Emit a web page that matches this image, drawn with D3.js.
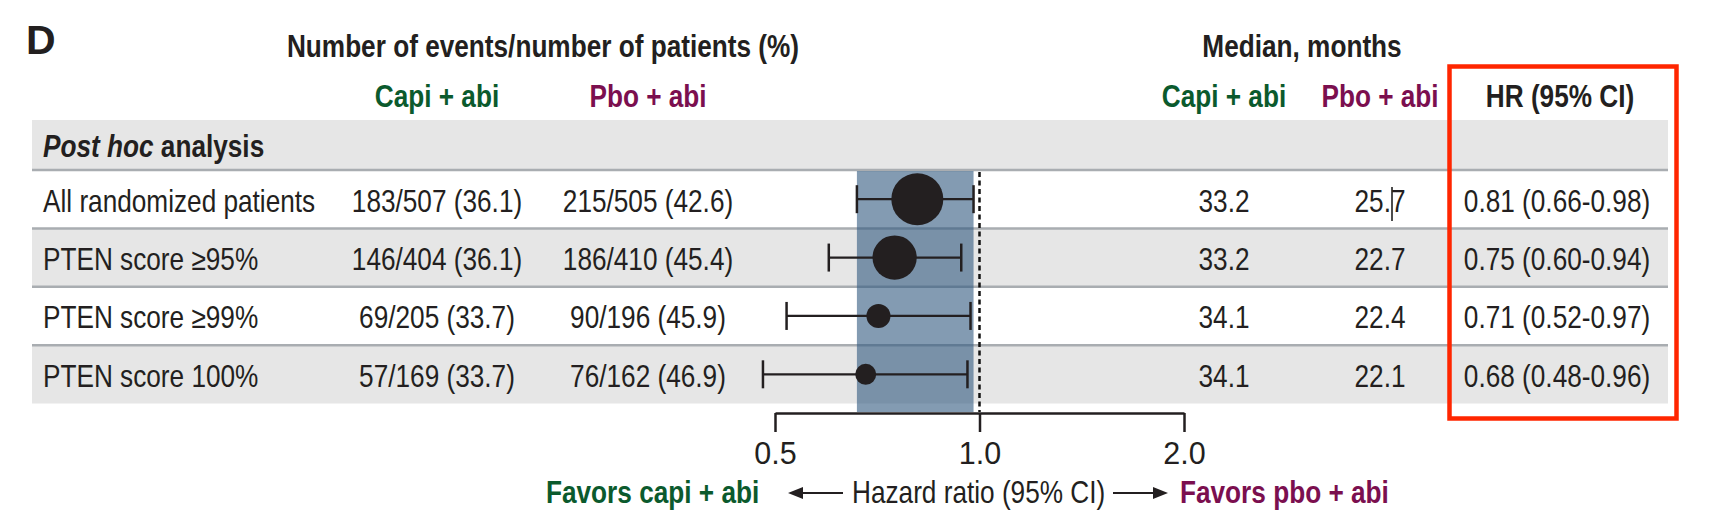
<!DOCTYPE html>
<html>
<head>
<meta charset="utf-8">
<script src="https://cdn.jsdelivr.net/npm/d3@7"></script>
<style>
  html, body { margin: 0; padding: 0; background: #fff; }
  svg { display: block; }
</style>
</head>
<body>
<svg id="chart" width="1718" height="516"></svg>
<script>
// ---------------- DATA ----------------
const subgroups   = ["All randomized patients", "PTEN score \u226595%", "PTEN score \u226599%", "PTEN score 100%"];
const capiEvents  = [183, 146, 69, 57];
const capiN       = [507, 404, 205, 169];
const capiPct     = [36.1, 36.1, 33.7, 33.7];
const pboEvents   = [215, 186, 90, 76];
const pboN        = [505, 410, 196, 162];
const pboPct      = [42.6, 45.4, 45.9, 46.9];
const medianCapi  = [33.2, 33.2, 34.1, 34.1];
const medianPbo   = [25.7, 22.7, 22.4, 22.1];
const hr          = [0.81, 0.75, 0.71, 0.68];
const hrLow       = [0.66, 0.60, 0.52, 0.48];
const hrHigh      = [0.98, 0.94, 0.97, 0.96];
const xTicks      = [0.5, 1.0, 2.0];
const refHR       = 1.0;

// ---------------- STYLE ----------------
const FONT = "'Liberation Sans', Arial, Helvetica, sans-serif";
const INK = "#231f20";
const GREEN = "#0b5a2d";
const PURPLE = "#7b0f4f";
const GRAY = "#e6e6e6";
const SEP = "#a9adb1";
const FS = 31;
const SQUEEZE = 0.845;   // condensed look of the source typeface

const svg = d3.select("#chart");

const rows = subgroups.map((s, i) => ({
  label: s, i,
  capi: `${capiEvents[i]}/${capiN[i]} (${capiPct[i].toFixed(1)})`,
  pbo: `${pboEvents[i]}/${pboN[i]} (${pboPct[i].toFixed(1)})`,
  medC: medianCapi[i].toFixed(1),
  medP: medianPbo[i].toFixed(1),
  hr: hr[i], lo: hrLow[i], hi: hrHigh[i],
  hrText: `${hr[i].toFixed(2)} (${hrLow[i].toFixed(2)}-${hrHigh[i].toFixed(2)})`,
  events: capiEvents[i] + pboEvents[i]
}));

// scales
const tableLeft = 32, tableRight = 1668;
const headerTop = 120, headerBottom = 170, tableBottom = 403.5;
const y = d3.scaleBand().domain(d3.range(rows.length)).range([headerBottom, tableBottom]);
const x = d3.scaleLog().domain([0.5, 2]).range([775, 1184]);
const r = d3.scaleLinear().domain(d3.extent(rows, d => d.events)).range([10.5, 26]);

// column centres
const col = { capi: 437, pbo: 648, medC: 1224, medP: 1380, hr: 1557 };

// ---------------- BACKGROUND ROWS ----------------
svg.append("rect").attr("x", tableLeft).attr("y", headerTop)
  .attr("width", tableRight - tableLeft).attr("height", headerBottom - headerTop).attr("fill", GRAY);

svg.append("g").selectAll("rect").data(rows).join("rect")
  .attr("x", tableLeft).attr("y", d => y(d.i))
  .attr("width", tableRight - tableLeft).attr("height", y.bandwidth())
  .attr("fill", d => d.i % 2 === 1 ? GRAY : "#ffffff");

// separators
const sepYs = [headerBottom].concat(rows.slice(1).map(d => y(d.i)));
svg.append("g").selectAll("line").data(sepYs).join("line")
  .attr("x1", tableLeft).attr("x2", tableRight)
  .attr("y1", d => d).attr("y2", d => d)
  .attr("stroke", SEP).attr("stroke-width", 2.5);

// ---------------- CI band of overall ----------------
svg.append("rect")
  .attr("x", x(rows[0].lo)).attr("width", x(rows[0].hi) - x(rows[0].lo))
  .attr("y", headerBottom + 1).attr("height", 412 - headerBottom - 1)
  .attr("fill", "#30597f").attr("fill-opacity", 0.6);

// reference dashed line
svg.append("line")
  .attr("x1", x(refHR)).attr("x2", x(refHR))
  .attr("y1", headerBottom + 2).attr("y2", 412)
  .attr("stroke", "#111").attr("stroke-width", 2.5).attr("stroke-dasharray", "5,3.5");

// ---------------- AXIS ----------------
const axis = d3.axisBottom(x).tickValues(xTicks).tickFormat(d3.format(".1f"))
  .tickSizeInner(19).tickSizeOuter(0).tickPadding(10);
const ag = svg.append("g").attr("transform", "translate(0,413)").call(axis);
ag.select(".domain").attr("stroke", INK).attr("stroke-width", 2.5);
ag.selectAll(".tick line").attr("stroke", INK).attr("stroke-width", 2.5);
ag.selectAll(".tick text").attr("fill", INK).attr("font-family", FONT).attr("font-size", 30.5);

// ---------------- ERROR BARS & POINTS ----------------
const eb = svg.append("g").selectAll("g").data(rows).join("g")
  .attr("transform", d => `translate(0,${y(d.i) + y.bandwidth() / 2})`);
eb.append("line").attr("x1", d => x(d.lo)).attr("x2", d => x(d.hi))
  .attr("stroke", INK).attr("stroke-width", 2.2);
eb.append("line").attr("x1", d => x(d.lo)).attr("x2", d => x(d.lo))
  .attr("y1", -14).attr("y2", 14).attr("stroke", INK).attr("stroke-width", 2.5);
eb.append("line").attr("x1", d => x(d.hi)).attr("x2", d => x(d.hi))
  .attr("y1", -14).attr("y2", 14).attr("stroke", INK).attr("stroke-width", 2.5);
eb.append("circle").attr("cx", d => x(d.hr)).attr("r", d => r(d.events)).attr("fill", "#231f20");

// ---------------- TEXT ----------------
function txt(g, s, xx, yy, opts = {}) {
  const sx = opts.squeeze === undefined ? SQUEEZE : opts.squeeze;
  return g.append("text")
    .attr("transform", `translate(${xx},${yy}) scale(${sx},1)`)
    .attr("font-family", FONT)
    .attr("font-size", opts.size || FS)
    .attr("font-weight", opts.weight || "normal")
    .attr("text-anchor", opts.anchor || "middle")
    .attr("fill", opts.fill || INK)
    .text(s);
}
const tg = svg.append("g");
txt(tg, "D", 26, 54, { size: 41, weight: "bold", anchor: "start", squeeze: 1 });
txt(tg, "Number of events/number of patients (%)", 543, 57, { weight: "bold" });
txt(tg, "Median, months", 1302, 57, { weight: "bold" });
txt(tg, "Capi + abi", col.capi, 107, { weight: "bold", fill: GREEN });
txt(tg, "Pbo + abi", col.pbo, 107, { weight: "bold", fill: PURPLE });
txt(tg, "Capi + abi", col.medC, 107, { weight: "bold", fill: GREEN });
txt(tg, "Pbo + abi", col.medP, 107, { weight: "bold", fill: PURPLE });
txt(tg, "HR (95% CI)", 1560, 107, { weight: "bold" });

const ph = txt(tg, "", 43, 157, { weight: "bold", anchor: "start" });
ph.append("tspan").attr("font-style", "italic").text("Post hoc");
ph.append("tspan").text(" analysis");

const rowText = svg.append("g").selectAll("g").data(rows).join("g")
  .attr("transform", d => `translate(0,${y(d.i) + y.bandwidth() / 2 + 12.5})`);
rowText.each(function (d) {
  const g = d3.select(this);
  txt(g, d.label, 43, 0, { anchor: "start" });
  txt(g, d.capi, col.capi, 0);
  txt(g, d.pbo, col.pbo, 0);
  txt(g, d.medC, col.medC, 0);
  txt(g, d.medP, col.medP, 0);
  txt(g, d.hrText, col.hr, 0);
});

// small cursor mark seen in source next to first Pbo median
svg.append("line").attr("x1", 1392).attr("x2", 1392)
  .attr("y1", y(0) + 17).attr("y2", y(0) + 51)
  .attr("stroke", "#111").attr("stroke-width", 1.5);

// ---------------- BOTTOM LABELS ----------------
const arrowY = 493;
txt(tg, "Favors capi + abi", 546, 503, { weight: "bold", fill: GREEN, anchor: "start" });
txt(tg, "Hazard ratio (95% CI)", 852, 503, { anchor: "start" });
txt(tg, "Favors pbo + abi", 1180, 503, { weight: "bold", fill: PURPLE, anchor: "start" });

function arrow(x1, x2) {
  const dir = Math.sign(x2 - x1);
  svg.append("line").attr("x1", x1).attr("x2", x2 - dir * 10)
    .attr("y1", arrowY).attr("y2", arrowY).attr("stroke", INK).attr("stroke-width", 2);
  svg.append("path")
    .attr("d", `M${x2},${arrowY} L${x2 - dir * 15},${arrowY - 6} L${x2 - dir * 15},${arrowY + 6} Z`)
    .attr("fill", INK);
}
arrow(843, 788);
arrow(1113, 1168);

// ---------------- RED HIGHLIGHT BOX ----------------
svg.append("rect").attr("x", 1449.5).attr("y", 66.5)
  .attr("width", 227).attr("height", 352)
  .attr("fill", "none").attr("stroke", "#ff2600").attr("stroke-width", 4.5);
</script>
</body>
</html>
